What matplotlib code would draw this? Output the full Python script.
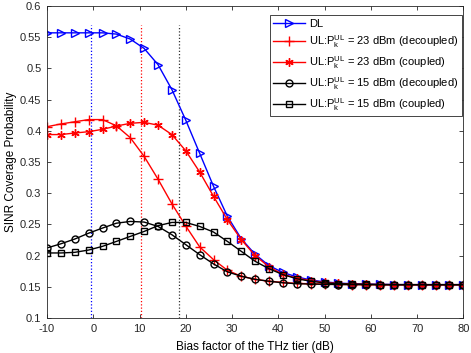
import numpy as np
import matplotlib
matplotlib.use("Agg")
import matplotlib.pyplot as plt

plt.rcParams['font.family'] = ['Liberation Sans', 'DejaVu Sans']
plt.rcParams['mathtext.fontset'] = 'custom'
plt.rcParams['mathtext.rm'] = 'Liberation Sans'
plt.rcParams['mathtext.it'] = 'Liberation Sans'
plt.rcParams['axes.unicode_minus'] = False

# bias factor (dB)
bias = [-10, -7, -4, -1, 2, 5, 8, 11, 14, 17, 20, 23, 26, 29, 32, 35, 38, 41, 44,
        47, 50, 53, 56, 59, 62, 65, 68, 71, 74, 77, 80]

dl = [0.557, 0.557, 0.557, 0.557, 0.557, 0.555, 0.547, 0.532, 0.506, 0.466, 0.417,
      0.364, 0.311, 0.263, 0.227, 0.202, 0.184, 0.173, 0.166, 0.161, 0.158, 0.156,
      0.155, 0.1545, 0.154, 0.1537, 0.1535, 0.1535, 0.1535, 0.1535, 0.1535]
ul23_dec = [0.4066, 0.411, 0.4145, 0.418, 0.418, 0.408, 0.389, 0.359, 0.3225, 0.283,
            0.2475, 0.214, 0.1936, 0.1765, 0.167, 0.162, 0.159, 0.157, 0.1555, 0.155,
            0.1545, 0.154, 0.1537, 0.1535, 0.1535, 0.1535, 0.1535, 0.1535, 0.1535,
            0.1535, 0.1535]
ul23_cpl = [0.394, 0.394, 0.3965, 0.3986, 0.4024, 0.4077, 0.412, 0.4136, 0.409, 0.394,
            0.368, 0.334, 0.295, 0.2575, 0.2256, 0.200, 0.182, 0.170, 0.164, 0.160,
            0.157, 0.1555, 0.1545, 0.154, 0.1537, 0.1535, 0.1535, 0.1535, 0.1535,
            0.1535, 0.1535]
ul15_dec = [0.2123, 0.219, 0.2266, 0.236, 0.2442, 0.252, 0.2548, 0.2538, 0.2468, 0.2335,
            0.2176, 0.2016, 0.1867, 0.174, 0.167, 0.162, 0.159, 0.1565, 0.155, 0.1545,
            0.154, 0.1537, 0.1535, 0.1535, 0.1535, 0.1535, 0.1535, 0.1535, 0.1535,
            0.1535, 0.1535]
ul15_cpl = [0.2043, 0.2043, 0.2053, 0.209, 0.2149, 0.2228, 0.2308, 0.2388, 0.248, 0.2532,
            0.2532, 0.2468, 0.2378, 0.2228, 0.2069, 0.1909, 0.179, 0.1696, 0.163, 0.159,
            0.1564, 0.155, 0.1545, 0.154, 0.1537, 0.1535, 0.1535, 0.1535, 0.1535,
            0.1535, 0.1535]

# optimal bias markers (dB)
opt_bias = [-0.5, 10.3, 18.5]
opt_colors = ['blue', 'red', '#333333']

fig = plt.figure(figsize=(4.71, 3.53), dpi=100)
ax = fig.add_axes([0.0998, 0.099, 0.8839, 0.884])

for xb, c in zip(opt_bias, opt_colors):
    ax.plot([xb, xb], [0.1, 0.57], ls=(0, (1, 1.6)), color=c, lw=0.9)

ax.plot(bias, dl, color='blue', marker='>', mfc='none', ms=6, lw=1, label='DL')
ax.plot(bias, ul23_dec, color='red', marker='+', ms=7, lw=1,
        label=r'UL:P$_\mathrm{k}^\mathrm{UL}$ = 23 dBm (decoupled)')
ax.plot(bias, ul23_cpl, color='red', marker=(6, 2, 0), ms=6, lw=1,
        label=r'UL:P$_\mathrm{k}^\mathrm{UL}$ = 23 dBm (coupled)')
ax.plot(bias, ul15_dec, color='black', marker='o', mfc='none', ms=5, lw=1,
        label=r'UL:P$_\mathrm{k}^\mathrm{UL}$ = 15 dBm (decoupled)')
ax.plot(bias, ul15_cpl, color='black', marker='s', mfc='none', ms=5, lw=1,
        label=r'UL:P$_\mathrm{k}^\mathrm{UL}$ = 15 dBm (coupled)')

ax.set_xlim(-10, 80)
ax.set_ylim(0.1, 0.6)
ax.set_xticks(np.arange(-10, 81, 10))
ax.set_yticks(np.arange(0.1, 0.601, 0.05))
ax.set_yticklabels(['0.1', '0.15', '0.2', '0.25', '0.3', '0.35', '0.4', '0.45',
                    '0.5', '0.55', '0.6'])
ax.tick_params(direction='in', top=True, right=True, labelsize=8, length=3,
               width=0.6, colors='#262626')
ax.tick_params(axis='x', pad=4)
ax.tick_params(axis='y', pad=4)
for s in ax.spines.values():
    s.set_color('#262626')
    s.set_linewidth(0.6)
ax.set_xlabel('Bias factor of the THz tier (dB)', fontsize=8.5, labelpad=5)
ax.set_ylabel('SINR Coverage Probability', fontsize=8.5, labelpad=2)

leg = ax.legend(loc='upper right', bbox_to_anchor=(0.996, 0.97), borderaxespad=0,
                fontsize=8, fancybox=False, framealpha=1, edgecolor='#262626',
                handlelength=2.8, labelspacing=0.38, borderpad=0.3,
                handletextpad=0.4)
leg.get_frame().set_linewidth(0.6)

fig.savefig('out.png', dpi=100)
